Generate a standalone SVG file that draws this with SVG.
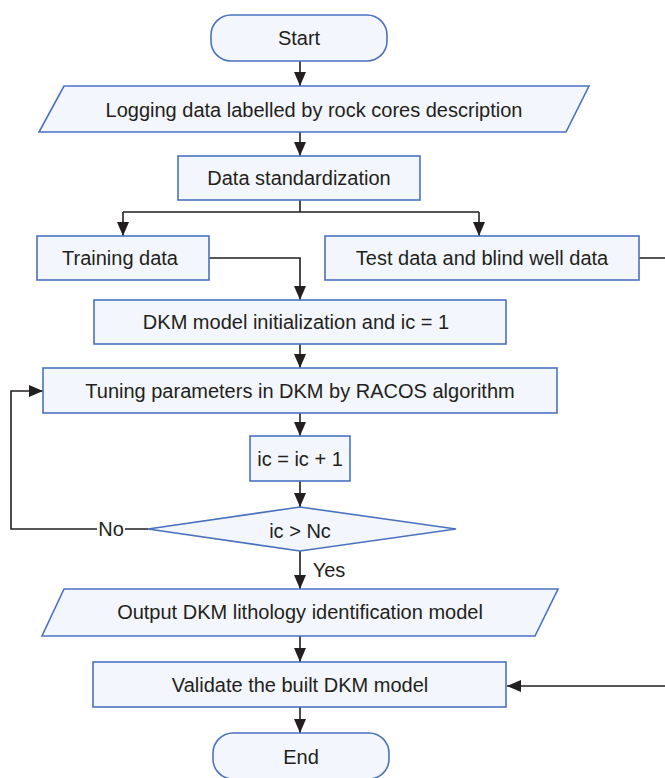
<svg xmlns="http://www.w3.org/2000/svg" width="665" height="778" viewBox="0 0 665 778">
<style>
.n{fill:#f3f6fc;stroke:#4a72c0;stroke-width:1.6}
.t{font-family:"Liberation Sans",Arial,sans-serif;font-size:20px;fill:#231f20;text-anchor:middle;dominant-baseline:central}
.c{fill:none;stroke:#231f20;stroke-width:1.6}
</style>
<defs>
<marker id="ah" markerWidth="14" markerHeight="14" refX="14" refY="7" orient="auto" markerUnits="userSpaceOnUse" viewBox="0 0 14 14">
<path d="M0,1 L14,7 L0,13 Z" fill="#231f20"/>
</marker>
</defs>
<g id="connectors">
<path class="c" d="M300,61 V86" marker-end="url(#ah)"/>
<path class="c" d="M300,132 V156" marker-end="url(#ah)"/>
<path class="c" d="M300,200 V212 M123,212 H479"/>
<path class="c" d="M123,212 V236" marker-end="url(#ah)"/>
<path class="c" d="M479,212 V236" marker-end="url(#ah)"/>
<path class="c" d="M209,258 H300 V300" marker-end="url(#ah)"/>
<path class="c" d="M639,258 H668 V686 H507" marker-end="url(#ah)"/>
<path class="c" d="M300,344 V368" marker-end="url(#ah)"/>
<path class="c" d="M300,413 V436" marker-end="url(#ah)"/>
<path class="c" d="M300,481 V507" marker-end="url(#ah)"/>
<path class="c" d="M148,529 H125 M97,529 H11 V391 H43" marker-end="url(#ah)"/>
<path class="c" d="M300,551 V589" marker-end="url(#ah)"/>
<path class="c" d="M300,636 V662" marker-end="url(#ah)"/>
<path class="c" d="M300,707 V733" marker-end="url(#ah)"/>
<text class="t" x="111" y="529">No</text>
<text class="t" x="329" y="570">Yes</text>
</g>
<g id="start"><rect class="n" x="211" y="15" width="176" height="46" rx="20"/><text class="t" x="299" y="38">Start</text></g>
<g id="logging"><polygon class="n" points="64,86 589,86 566,132 39,132"/><text class="t" x="314" y="110">Logging data labelled by rock cores description</text></g>
<g id="standardization"><rect class="n" x="178" y="156" width="242" height="44"/><text class="t" x="299" y="178">Data standardization</text></g>
<g id="training"><rect class="n" x="37" y="236" width="172" height="44"/><text class="t" x="120" y="258">Training data</text></g>
<g id="test"><rect class="n" x="325" y="236" width="314" height="44"/><text class="t" x="482" y="258">Test data and blind well data</text></g>
<g id="init"><rect class="n" x="94" y="300" width="412" height="44"/><text class="t" x="296" y="322">DKM model initialization and ic = 1</text></g>
<g id="tuning"><rect class="n" x="43" y="368" width="514" height="45"/><text class="t" x="300" y="391">Tuning parameters in DKM by RACOS algorithm</text></g>
<g id="increment"><rect class="n" x="250" y="436" width="100" height="45"/><text class="t" x="300" y="459">ic = ic + 1</text></g>
<g id="decision"><polygon class="n" points="300,507 456,529 300,551 148,529"/><text class="t" x="300" y="531">ic &gt; Nc</text></g>
<g id="output"><polygon class="n" points="64,589 558,589 535,636 42,636"/><text class="t" x="300" y="612">Output DKM lithology identification model</text></g>
<g id="validate"><rect class="n" x="93" y="662" width="413" height="45"/><text class="t" x="300" y="685">Validate the built DKM model</text></g>
<g id="end"><rect class="n" x="213" y="733" width="176" height="46" rx="20"/><text class="t" x="301" y="757">End</text></g>
</svg>
